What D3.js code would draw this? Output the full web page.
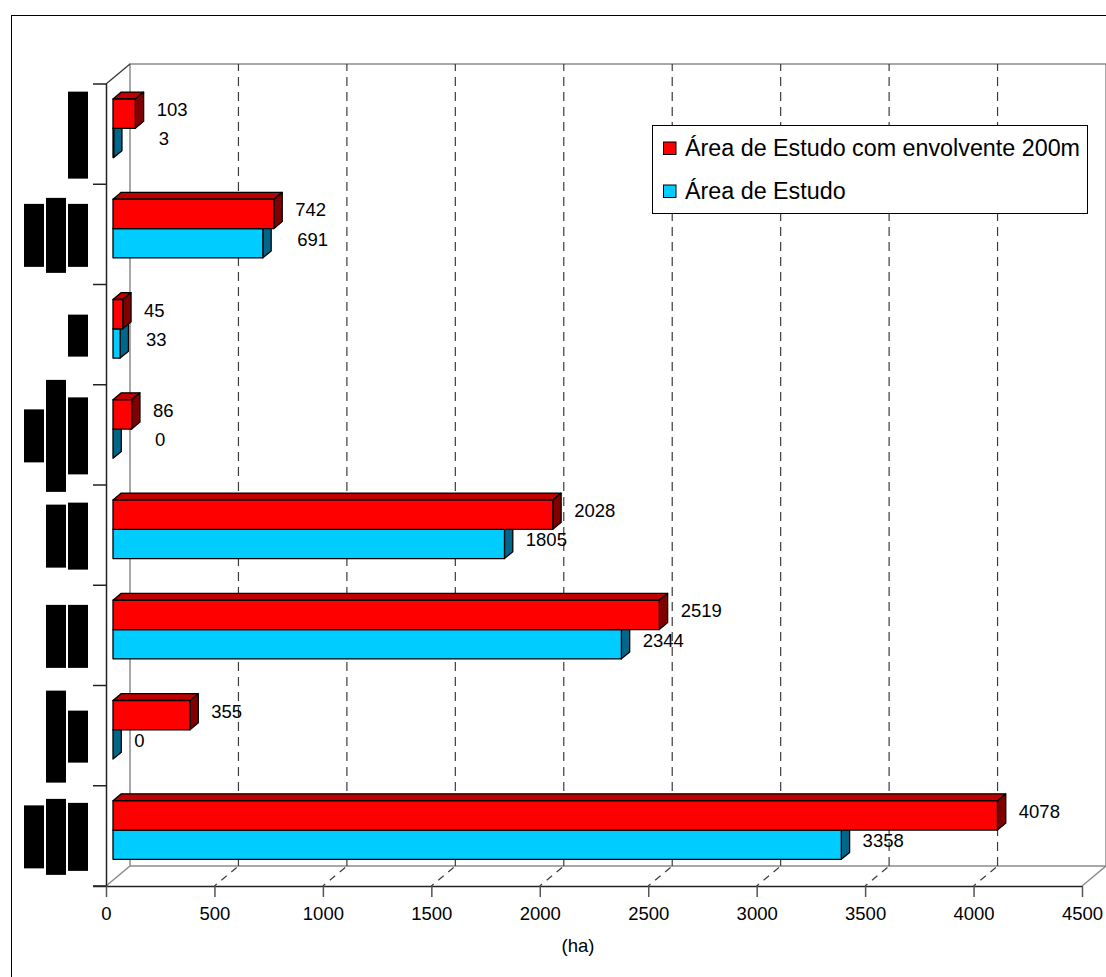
<!DOCTYPE html>
<html>
<head>
<meta charset="utf-8">
<script src="https://cdn.jsdelivr.net/npm/d3@7"></script>
<style>
  html, body { margin: 0; padding: 0; background: #fff; }
  svg { display: block; font-family: "Liberation Sans", Arial, sans-serif; }
</style>
</head>
<body>
<svg id="chart" width="1106" height="977"></svg>
<script>
// Categories, top to bottom (names withheld in the published figure)
const categories = ["C1", "C2", "C3", "C4", "C5", "C6", "C7", "C8"];
const seriesNames = ["Área de Estudo com envolvente 200m", "Área de Estudo"];
const buffer200 = [103, 742, 45, 86, 2028, 2519, 355, 4078];
const studyArea = [3, 691, 33, 0, 1805, 2344, 0, 3358];
const xTicks = [0, 500, 1000, 1500, 2000, 2500, 3000, 3500, 4000, 4500];
const xTitle = "(ha)";

// Redaction blocks over the category labels: column heights, right column first
const labelMasks = [[87], [63, 75, 63], [42], [77, 112, 53], [67, 63], [63, 63], [52, 92], [68, 76, 63]];

const svg = d3.select("#chart");
const font = "'Liberation Sans', Arial, sans-serif";

// Frame of the 3D plot: front plane and depth offset of the back wall
const L = 106, R = 1082, T = 84, B = 886;
const DX = 24, DY = -20;
const f1 = 7 / 24, f2 = 15.3 / 24; // bar depth range as fractions of the full depth

const x = d3.scaleLinear().domain([0, 4500]).range([L, R]);
const y = d3.scaleBand().domain(categories).range([T, B]);
const series = d3.scaleOrdinal().domain(seriesNames).range([0, 1]);

const palette = [
  { front: "#ff0000", top: "#c00000", side: "#800000" },
  { front: "#00ccff", top: "#0099bf", side: "#00668a" }
];

// Outer chart border
svg.append("rect")
  .attr("x", 11.5).attr("y", 15.5).attr("width", 1110).attr("height", 980)
  .attr("fill", "#fff").attr("stroke", "#000").attr("stroke-width", 1);

const walls = svg.append("g").attr("fill", "none");
// back wall
walls.append("path")
  .attr("d", `M${L + DX},${B + DY} V${T + DY} H${R + DX} V${B + DY}`)
  .attr("stroke", "#8c8c8c").attr("stroke-width", 1.5);
// floor
walls.append("path")
  .attr("d", `M${L},${B} L${L + DX},${B + DY} H${R + DX} L${R},${B}`)
  .attr("stroke", "#8c8c8c").attr("stroke-width", 1.5);
// left wall top edge
walls.append("path")
  .attr("d", `M${L},${T} L${L + DX},${T + DY}`)
  .attr("stroke", "#333").attr("stroke-width", 1.2);

// gridlines on the back wall and the floor
const grid = svg.append("g").attr("stroke", "#3c3c3c").attr("stroke-width", 1.2)
  .attr("stroke-dasharray", "9,6").attr("fill", "none");
xTicks.filter(t => t > 0 && t < 4500).forEach(t => {
  grid.append("line")
    .attr("x1", x(t) + DX).attr("x2", x(t) + DX)
    .attr("y1", B + DY).attr("y2", T + DY);
  grid.append("line")
    .attr("x1", x(t)).attr("y1", B)
    .attr("x2", x(t) + DX).attr("y2", B + DY)
    .attr("stroke-dasharray", "7,6").attr("stroke-dashoffset", 4);
});

// value axis (front edge of the floor)
const xAxis = svg.append("g").attr("transform", `translate(0,${B})`)
  .call(d3.axisBottom(x).tickValues(xTicks).tickSize(11).tickPadding(10).tickFormat(d3.format("d")));
xAxis.select(".domain").attr("d", `M${L - 13},0.5H${R}`).attr("stroke", "#222").attr("stroke-width", 1.5);
xAxis.selectAll(".tick line").attr("stroke", "#555").attr("stroke-width", 1.5);
xAxis.selectAll(".tick text").attr("font-family", font).attr("font-size", 18.5).attr("fill", "#000");

// category axis
const yAxis = svg.append("g").attr("transform", `translate(${L},0)`)
  .call(d3.axisLeft(y).tickSize(0).tickFormat(""));
yAxis.select(".domain").attr("d", `M0.5,${T}V${B}`).attr("stroke", "#222").attr("stroke-width", 1.5);
const boundaries = categories.map(c => y(c)).concat([B]);
svg.append("g").selectAll("line").data(boundaries).join("line")
  .attr("x1", L - 13).attr("x2", L).attr("y1", d => d).attr("y2", d => d)
  .attr("stroke", "#222").attr("stroke-width", 1.5);

// redacted category labels
const masks = svg.append("g").attr("fill", "#000");
categories.forEach((c, i) => {
  const cy = y(c) + y.bandwidth() / 2 + 1;
  labelMasks[i].forEach((h, k) => {
    masks.append("rect")
      .attr("x", 68 - 22 * k).attr("y", cy - h / 2)
      .attr("width", 20).attr("height", h);
  });
});

// 3D bars
const barH = y.bandwidth() * 0.2923;
const o1 = { x: DX * f1, y: DY * f1 };
const o2 = { x: DX * f2, y: DY * f2 };
const rows = [];
categories.forEach((c, i) => {
  const cy = y(c) + y.bandwidth() / 2;
  [buffer200[i], studyArea[i]].forEach((v, s) => {
    rows.push({ c, s, v, top: cy - barH + s * barH });
  });
});

const bars = svg.append("g").attr("stroke", "#000").attr("stroke-width", 1.3).attr("stroke-linejoin", "round");
// lower bar of each pair first, so the upper one sits on top
categories.forEach(c => {
  rows.filter(r => r.c === c).sort((a, b) => b.s - a.s).forEach(r => {
    const col = palette[r.s];
    const x0 = x(0), xv = x(r.v), t = r.top, b = r.top + barH;
    const g = bars.append("g");
    g.append("polygon").attr("fill", col.top).attr("points", [
      [x0 + o1.x, t + o1.y], [x0 + o2.x, t + o2.y], [xv + o2.x, t + o2.y], [xv + o1.x, t + o1.y]
    ].join(" "));
    g.append("polygon").attr("fill", col.side).attr("points", [
      [xv + o1.x, t + o1.y], [xv + o2.x, t + o2.y], [xv + o2.x, b + o2.y], [xv + o1.x, b + o1.y]
    ].join(" "));
    if (r.v > 0) {
      g.append("rect").attr("fill", col.front)
        .attr("x", x0 + o1.x).attr("y", t + o1.y)
        .attr("width", xv - x0).attr("height", barH);
    }
  });
});

// value labels right of each bar; the lower label lines up under the upper one when they are close
const labels = svg.append("g").attr("font-family", font).attr("font-size", 18.5).attr("fill", "#000");
categories.forEach((c, i) => {
  const pair = rows.filter(r => r.c === c);
  const lx = pair.map(r => x(r.v) + o2.x + 13);
  if (Math.abs(lx[0] - lx[1]) < 30) lx[1] = lx[0] + 2;
  pair.forEach((r, k) => {
    labels.append("text")
      .attr("x", lx[k]).attr("y", r.top + o1.y + barH / 2 - 4)
      .attr("dominant-baseline", "central")
      .text(r.v);
  });
});

// axis title
svg.append("text").attr("x", 578).attr("y", 945)
  .attr("text-anchor", "middle").attr("dominant-baseline", "central")
  .attr("font-family", font).attr("font-size", 18.5).text(xTitle);

// legend
const lg = svg.append("g").attr("transform", "translate(652,125)");
lg.append("rect").attr("x", 0.5).attr("y", 0.5).attr("width", 435).attr("height", 88)
  .attr("fill", "#fff").attr("stroke", "#000").attr("stroke-width", 1);
seriesNames.forEach((name, k) => {
  const row = lg.append("g").attr("transform", `translate(0,${23 + k * 43})`);
  row.append("rect").attr("x", 11.5).attr("y", -6).attr("width", 12.5).attr("height", 12.5)
    .attr("fill", palette[series(name)].front).attr("stroke", "#000").attr("stroke-width", 1);
  row.append("text").attr("x", 33).attr("y", 0).attr("dominant-baseline", "central")
    .attr("font-family", font).attr("font-size", 23.3).text(name);
});
</script>
</body>
</html>
